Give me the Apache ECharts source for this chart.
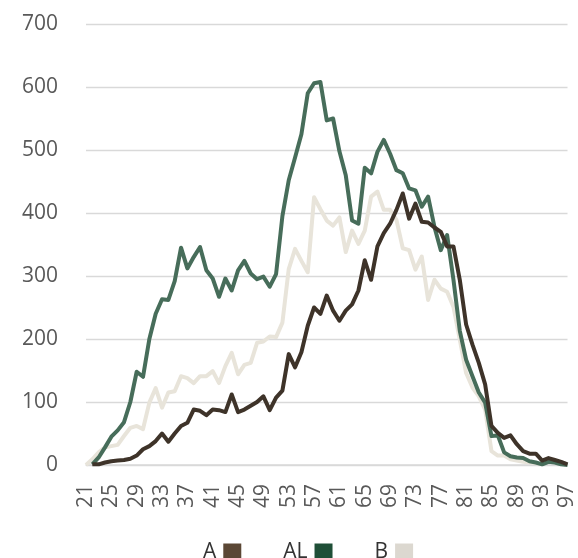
<!DOCTYPE html>
<html>
<head>
<meta charset="utf-8">
<script src="https://cdn.jsdelivr.net/npm/echarts@6/dist/echarts.min.js"></script>
<style>
html,body{margin:0;padding:0;background:#fff;}
#c{width:578px;height:558px;}
</style>
</head>
<body>
<div id="c"></div>
<script>
var categories = [];
for (var i = 21; i <= 97; i++) categories.push(String(i));

var seriesA = [null,1,1,4,6,7,8,10,15,25,30,38,50,37,50,62,67,88,86,79,88,87,84,112,84,88,94,100,109,87,107,118,176,155,179,221,250,240,269,245,229,245,255,277,325,294,347,368,383,405,431,391,415,386,385,377,370,347,347,294,223,191,162,128,62,51,43,47,33,22,18,18,7,11,8,5,1];

var seriesAL = [null,1,12,28,45,55,68,100,148,140,200,240,263,262,292,345,312,330,346,309,296,267,296,277,309,324,304,295,299,283,303,395,452,488,525,590,606,608,547,550,498,460,388,383,472,463,497,516,494,468,463,439,436,410,426,378,341,365,294,213,167,141,115,99,46,47,20,14,12,11,6,4,1,5,4,1,0];

var seriesB = [0,9,20,28,30,32,46,59,62,57,99,122,91,115,117,141,138,130,141,141,149,130,157,178,144,159,162,194,196,204,203,226,311,343,324,306,425,406,388,380,393,338,372,351,372,426,434,405,405,389,344,341,310,331,262,294,280,275,251,199,146,123,109,88,22,15,15,9,7,5,4,3,1,null,null,null,null];

var yTicks = [0,100,200,300,400,500,600,700];

var chart = echarts.init(document.getElementById('c'), null, {renderer:'canvas'});
var fontFam = '"Open Sans", "Liberation Sans", sans-serif';
chart.setOption({
  animation: false,
  backgroundColor: '#ffffff',
  grid: {left: 86, right: 10, top: 24, bottom: 93, containLabel: false},
  legend: {
    left: 198, top: 537,
    align: 'right',
    itemWidth: 18, itemHeight: 18, itemGap: 42,
    icon: 'rect',
    textStyle: {fontFamily: fontFam, fontSize: 21, color: '#333333', padding: [0, 2, 0, 0]},
    data: [
      {name: 'A', itemStyle: {color: '#5b4735'}},
      {name: 'AL', itemStyle: {color: '#1f4f37'}},
      {name: 'B', itemStyle: {color: '#dcd8d0'}}
    ]
  },
  xAxis: {
    type: 'category',
    data: categories,
    boundaryGap: false,
    axisLine: {show: true, lineStyle: {color: '#d9d9d9', width: 1.5}},
    axisTick: {show: false},
    axisLabel: {
      interval: 3, rotate: 90, margin: 19,
      fontFamily: fontFam, fontSize: 21, color: '#595959'
    },
    splitLine: {show: false}
  },
  yAxis: {
    type: 'value',
    min: yTicks[0], max: yTicks[yTicks.length-1], interval: 100,
    axisLine: {show: false},
    axisTick: {show: false},
    axisLabel: {margin: 28, fontFamily: fontFam, fontSize: 21, color: '#595959'},
    splitLine: {show: true, lineStyle: {color: '#d9d9d9', width: 1.3}}
  },
  series: [
    {name: 'B', type: 'line', data: seriesB, symbol: 'none', z: 2,
     lineStyle: {color: '#e8e4da', width: 4, join: 'round'}, itemStyle: {color: '#dcd8d0'}},
    {name: 'AL', type: 'line', data: seriesAL, symbol: 'none', z: 3,
     lineStyle: {color: '#476d5a', width: 4, join: 'round'}, itemStyle: {color: '#1f4f37'}},
    {name: 'A', type: 'line', data: seriesA, symbol: 'none', z: 4,
     lineStyle: {color: '#3e3329', width: 4, join: 'round'}, itemStyle: {color: '#5b4735'}}
  ]
});
</script>
</body>
</html>
